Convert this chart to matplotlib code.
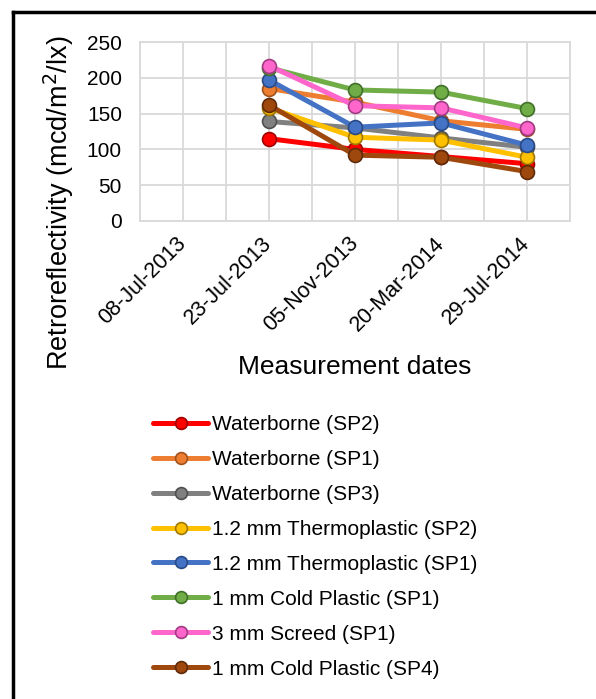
import matplotlib
matplotlib.use("Agg")
import matplotlib.pyplot as plt
from matplotlib.lines import Line2D
import numpy as np

plt.rcParams['font.family'] = ['Liberation Sans', 'DejaVu Sans']

dates = ["08-Jul-2013", "23-Jul-2013", "05-Nov-2013", "20-Mar-2014", "29-Jul-2014"]
series_names = ["Waterborne (SP2)", "Waterborne (SP1)", "Waterborne (SP3)",
                "1.2 mm Thermoplastic (SP2)", "1.2 mm Thermoplastic (SP1)",
                "1 mm Cold Plastic (SP1)", "3 mm Screed (SP1)", "1 mm Cold Plastic (SP4)"]
waterborne_sp2 = [np.nan, 115, 100, 90, 80]
waterborne_sp1 = [np.nan, 185, 166, 140, 128]
waterborne_sp3 = [np.nan, 139, 130, 116, 103]
thermo12_sp2 = [np.nan, 158, 117, 113, 89]
thermo12_sp1 = [np.nan, 197, 131, 137, 106]
cold1_sp1 = [np.nan, 214, 183, 180, 157]
screed3_sp1 = [np.nan, 217, 161, 158, 130]
cold1_sp4 = [np.nan, 162, 92, 89, 69]
values = [waterborne_sp2, waterborne_sp1, waterborne_sp3, thermo12_sp2,
          thermo12_sp1, cold1_sp1, screed3_sp1, cold1_sp4]
colors = ["#FF0000", "#ED7D31", "#808080", "#FFC000", "#4472C4",
          "#70AD47", "#FF66CC", "#9E480E"]
edge_colors = ["#A00000", "#A0531E", "#505050", "#A07800", "#2A4A85",
               "#41702A", "#A03C82", "#5E2A08"]

W, H = 596, 699
fig = plt.figure(figsize=(W / 100, H / 100), dpi=100)
ax = fig.add_axes([140 / W, 1 - 221 / H, 430 / W, 179 / H])

x = np.arange(len(dates))
handles = []
for name, vals, c, ec in zip(series_names, values, colors, edge_colors):
    h, = ax.plot(x, vals, color=c, lw=3.6, marker='o', markersize=10,
                 markerfacecolor=c, markeredgecolor=ec, markeredgewidth=1.2,
                 label=name, solid_capstyle='round', zorder=3)
    handles.append(h)

ax.set_xlim(-0.5, len(dates) - 0.5)
ax.set_ylim(0, 250)
ax.set_yticks(np.arange(0, 251, 50))
ax.set_xticks(x)
ax.set_xticks(np.arange(-0.5, len(dates), 1.0), minor=True)
ax.set_xticklabels(dates, rotation=45, ha='right', va='center',
                   rotation_mode='anchor', fontsize=15.5)
ax.tick_params(axis='x', which='both', length=0, pad=14)
ax.tick_params(axis='y', length=0, pad=13, labelsize=15)
ax.grid(True, which='both', color='#d9d9d9', lw=1.3, zorder=0)
for s in ax.spines.values():
    s.set_color('#d9d9d9')
    s.set_linewidth(1.3)
ax.set_axisbelow(True)

ax.set_ylabel("Retroreflectivity (mcd/m$^2$/lx)", fontsize=19.5, va='center')
ax.yaxis.set_label_coords(-0.19, 0.10)
ax.set_xlabel("Measurement dates", fontsize=19, va='center')
ax.xaxis.set_label_coords(0.5, -0.816)

leg = fig.legend(handles=handles, loc='upper left',
                 bbox_to_anchor=(153 / W, 1 - 415 / H), frameon=False,
                 fontsize=15, handlelength=2.65, handletextpad=0.2,
                 labelspacing=0.765, borderaxespad=0, borderpad=0)
for ln in leg.get_lines():
    ln.set_markersize(8.5)

fig.add_artist(Line2D([13 / W, 1.0], [1 - 12 / H, 1 - 12 / H], color='black',
                      lw=2.5, transform=fig.transFigure))
fig.add_artist(Line2D([13 / W, 13 / W], [0, 1 - 12 / H], color='black',
                      lw=2.5, transform=fig.transFigure))

fig.savefig("out.png", dpi=100)
